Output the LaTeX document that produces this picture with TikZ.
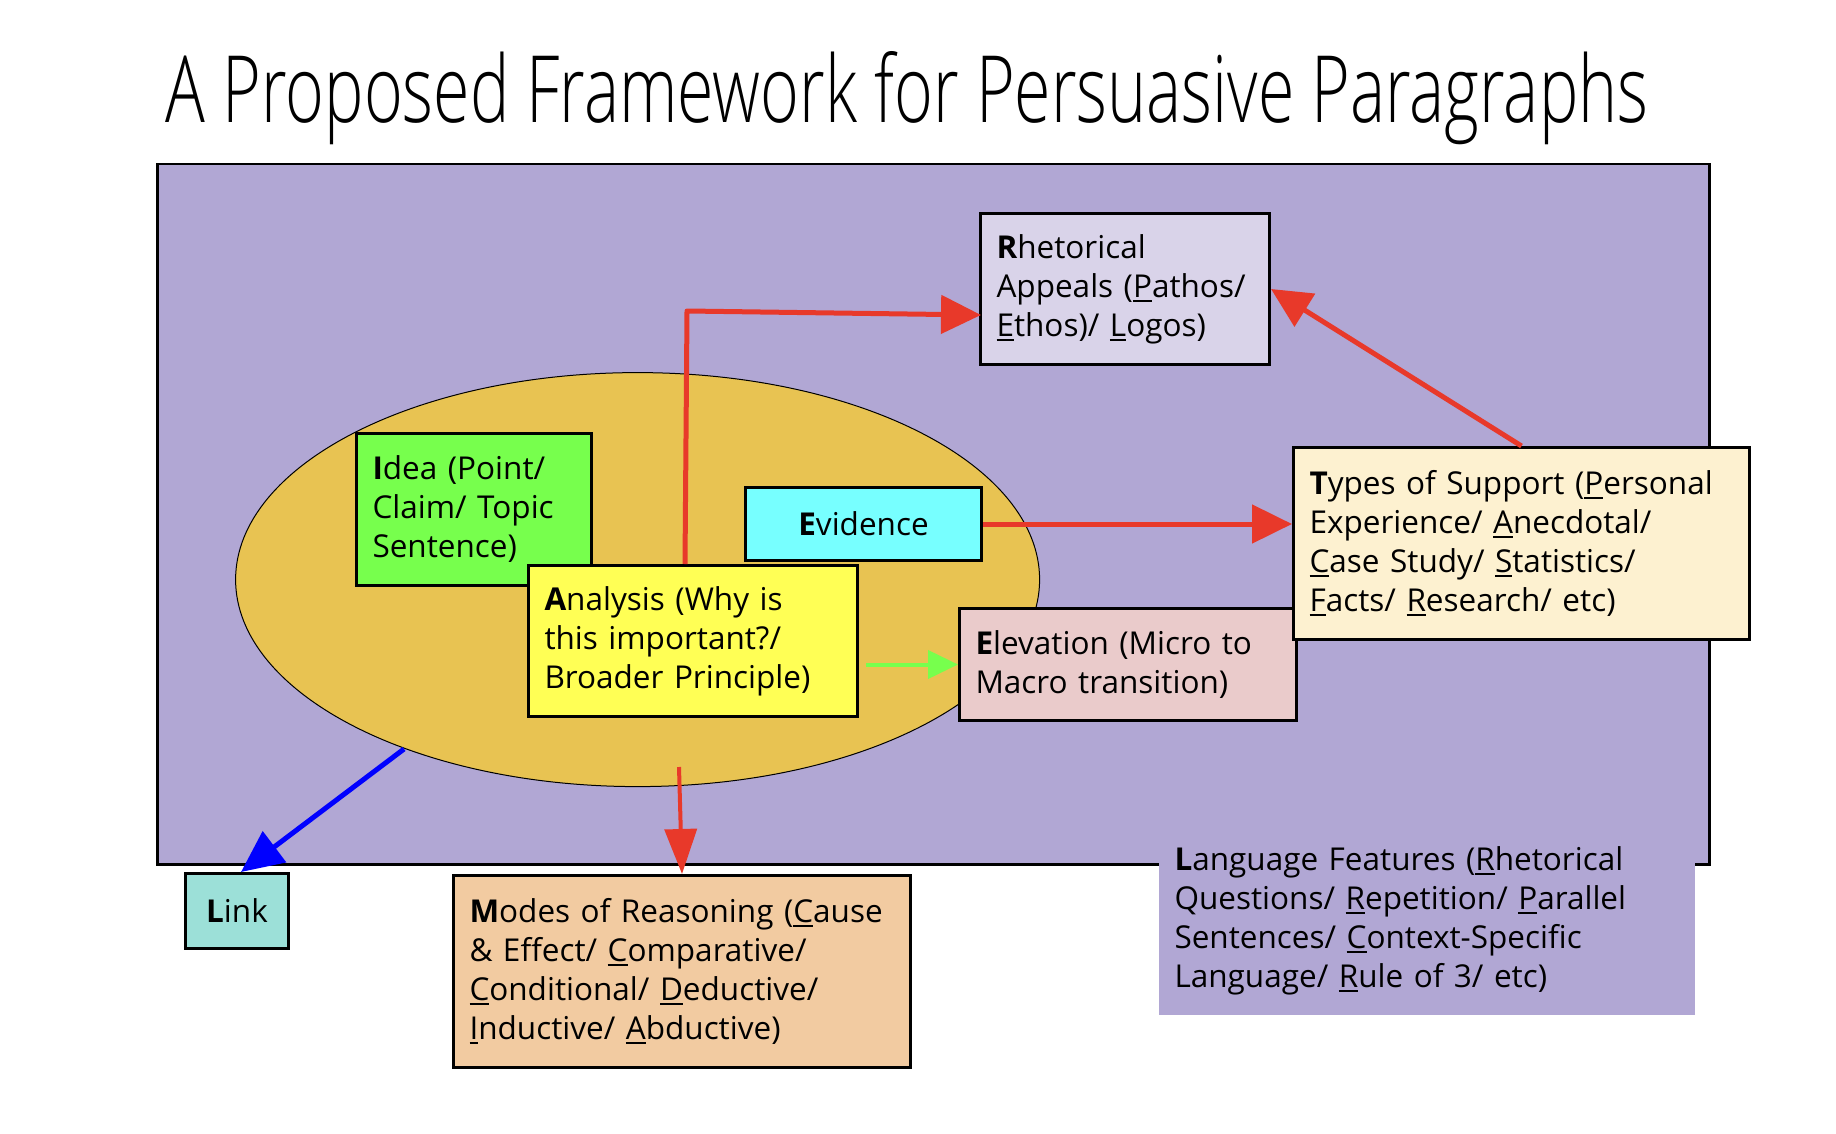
\documentclass[tikz,border=0pt]{standalone}
\usepackage{fontspec}
\setmainfont{Open Sans}
\newfontfamily\titlefont{Open Sans Light}
\usetikzlibrary{arrows.meta,shapes.geometric}
\definecolor{bgpurple}{HTML}{B1A7D4}
\definecolor{ellgold}{HTML}{E8C352}
\definecolor{rhetfill}{HTML}{D9D3E9}
\definecolor{ideagreen}{HTML}{77FF4D}
\definecolor{evcyan}{HTML}{77FFFF}
\definecolor{anayellow}{HTML}{FFFF55}
\definecolor{elevpink}{HTML}{EACBCB}
\definecolor{typescream}{HTML}{FDF1D0}
\definecolor{linkteal}{HTML}{9CE0D8}
\definecolor{modesorange}{HTML}{F2CBA1}
\definecolor{arrred}{HTML}{E8392A}
\definecolor{arrgreen}{HTML}{77FF4D}
\newsavebox\ulbox
\newcommand{\uln}[1]{\leavevmode\sbox\ulbox{#1}\rlap{\rule[-4.5pt]{\wd\ulbox}{2pt}}\usebox\ulbox}
\begin{document}
\begin{tikzpicture}[x=1pt,y=-1pt,
  boxtxt/.style={font=\fontsize{31.5pt}{39pt}\selectfont},
  pbox/.style={boxtxt, draw=black, line width=3pt, anchor=north west, align=left,
    inner xsep=16pt, inner ysep=0pt},
  cbox/.style={boxtxt, draw=black, line width=3pt, anchor=north west, align=center,
    inner sep=0pt},
  redarr/.style={draw=arrred, line width=5pt, -{Triangle[length=40pt,width=38pt]}},
]
\useasboundingbox (0,0) rectangle (1836,1134);
\node[anchor=base, inner sep=0pt] (title) at (907,123)
  {\resizebox{1482pt}{71pt}{\titlefont A Proposed Framework for Persuasive Paragraphs}};

\node[draw=black, line width=2.5pt, fill=bgpurple, anchor=north west, inner sep=0pt,
  minimum width=1552pt, minimum height=700pt] (bg) at (156,163) {};
\node[ellipse, draw=black, line width=1pt, fill=ellgold, inner sep=0pt,
  minimum width=804pt, minimum height=414pt] (ell) at (637.6,579.6) {};

\node[pbox, fill=rhetfill, text width=257pt, minimum height=151pt] (rhet) at (979,212)
  {\textbf{R}hetorical\\ Appeals (\uln{P}athos/\\ \uln{E}thos)/ \uln{L}ogos)};
\node[pbox, fill=ideagreen, text width=203pt, minimum height=152pt] (idea) at (355,432)
  {\textbf{I}dea (Point/\\ Claim/ Topic\\ Sentence)};
\node[cbox, fill=evcyan, minimum width=236pt, minimum height=73pt] (ev) at (744,486)
  {\textbf{E}vidence};
\node[pbox, fill=anayellow, text width=297pt, minimum height=151pt] (ana) at (527,564)
  {\textbf{A}nalysis (Why is\\ this important?/\\ Broader Principle)};
\node[pbox, fill=elevpink, text width=305pt, minimum height=112pt] (elev) at (958,607)
  {\textbf{E}levation (Micro to\\ Macro transition)};
\node[pbox, fill=typescream, text width=424pt, minimum height=192pt] (types) at (1292,446)
  {\textbf{T}ypes of Support (\uln{P}ersonal\\ Experience/ \uln{A}necdotal/\\
   \uln{C}ase Study/ \uln{S}tatistics/\\ \uln{F}acts/ \uln{R}esearch/ etc)};
\node[cbox, fill=linkteal, minimum width=103pt, minimum height=75pt] (link) at (184,872)
  {\textbf{L}ink};
\node[pbox, fill=modesorange, text width=425pt, minimum height=192pt] (modes) at (452,874)
  {\textbf{M}odes of Reasoning (\uln{C}ause\\ \& Effect/ \uln{C}omparative/\\
   \uln{C}onditional/ \uln{D}eductive/\\ \uln{I}nductive/ \uln{A}bductive)};
\node[pbox, draw=none, fill=bgpurple, text width=504pt, minimum height=175pt,
  inner ysep=0pt] (lang) at (1157,838)
  {\textbf{L}anguage Features (\uln{R}hetorical\\ Questions/ \uln{R}epetition/ \uln{P}arallel\\
   Sentences/ \uln{C}ontext-Specific\\ Language/ \uln{R}ule of 3/ etc)\\[-30pt]\strut};

\coordinate (anatop) at (685,564);
\coordinate (bend) at (687,311);
\coordinate (rhetin) at (981,315);
\coordinate (linkstart) at (404,749);
\coordinate (modesstart) at (679,767);

\draw[redarr, line join=round] (anatop) -- (bend) -- (rhetin);
\draw[redarr] (types.north) -- (rhet.east);
\draw[redarr] (ev.east) -- (ev.east -| types.west);
\draw[draw=arrgreen, line width=4pt, -{Triangle[length=30pt,width=28pt]}]
  ([xshift=7pt]ana.east |- elev.west) -- (elev.west);
\draw[draw=blue, line width=5pt, -{Triangle[length=42pt,width=38pt]}]
  (linkstart) -- ([xshift=4pt]link.north);
\draw[draw=arrred, line width=4pt, -{Triangle[length=45pt,width=32pt]}]
  (modesstart) -- (modes.north);
\end{tikzpicture}
\end{document}
